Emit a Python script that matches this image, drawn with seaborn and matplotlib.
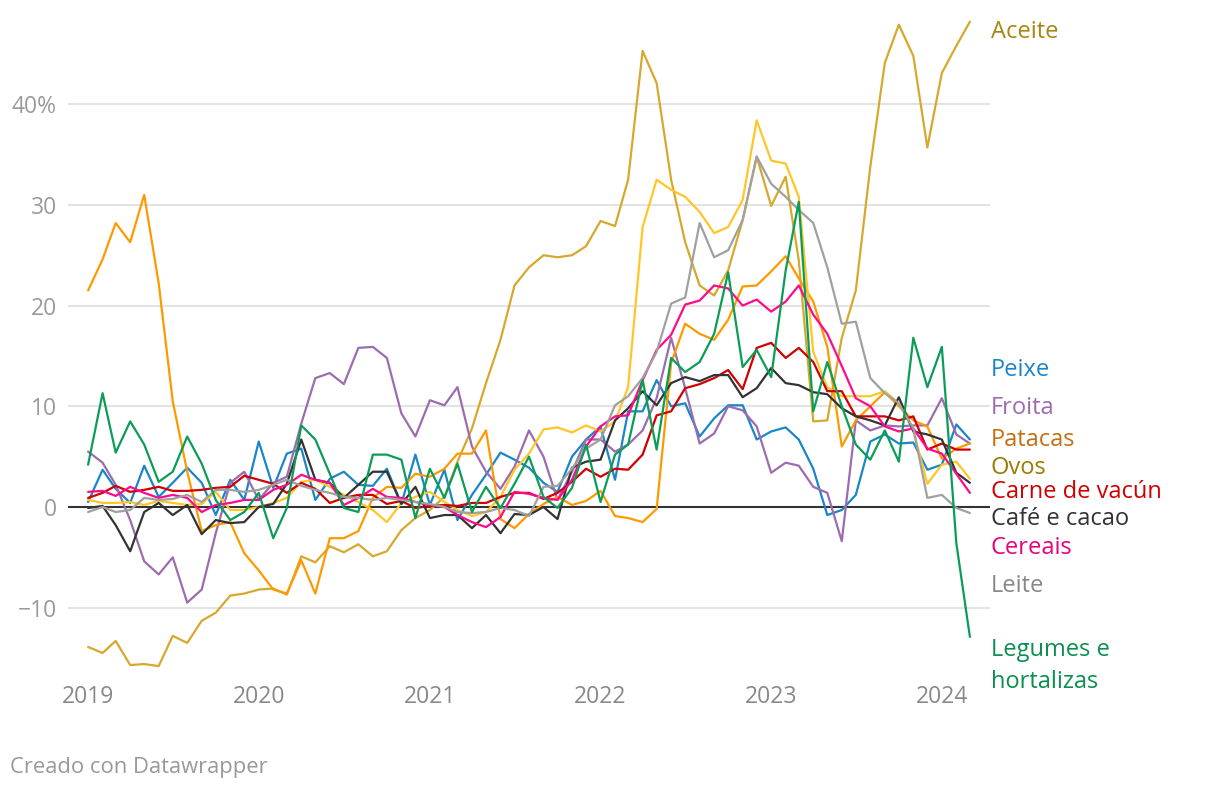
import numpy as np
import pandas as pd
import seaborn as sns
import matplotlib.pyplot as plt

# =========================
# DATA (monthly % change, Jan 2019 - Mar 2024)
# =========================
months = pd.date_range("2019-01-01", periods=63, freq="MS")

aceite = [-13.9, -14.5, -13.3, -15.7, -15.6, -15.8, -12.8, -13.5, -11.3, -10.5, -8.8, -8.6,
          -8.2, -8.1, -8.7, -4.9, -5.5, -3.9, -4.5, -3.7, -4.9, -4.4, -2.3, -1.1,
          -0.3, 1.0, 4.5, 7.8, 12.3, 16.6, 22.0, 23.8, 25.0, 24.8, 25.0, 25.9,
          28.4, 27.9, 32.5, 45.3, 42.1, 32.5, 26.3, 22.0, 21.0, 23.5, 28.5, 34.8,
          29.9, 32.8, 24.5, 8.5, 8.6, 16.8, 21.5, 33.8, 44.1, 47.9, 44.8, 35.7,
          43.1, 45.8, 48.2]
peixe = [0.5, 3.7, 1.8, 0.4, 4.1, 1.0, 2.4, 3.9, 2.4, -0.8, 2.7, 0.7,
         6.5, 1.9, 5.3, 5.8, 0.7, 2.8, 3.5, 2.2, 2.1, 3.8, 0.3, 5.2,
         0.2, 3.7, -1.3, 1.2, 3.2, 5.4, 4.7, 3.9, 2.4, 1.5, 5.0, 6.7,
         8.0, 2.7, 9.5, 9.5, 12.6, 10.0, 10.3, 7.0, 8.8, 10.1, 10.1, 6.7,
         7.5, 7.9, 6.7, 3.8, -0.8, -0.3, 1.2, 6.5, 7.2, 6.3, 6.4, 3.7,
         4.2, 8.2, 6.7]
froita = [5.5, 4.4, 2.2, -1.3, -5.4, -6.7, -5.0, -9.5, -8.2, -2.6, 2.4, 3.5,
          0.7, 2.4, 3.0, 8.3, 12.8, 13.3, 12.2, 15.8, 15.9, 14.8, 9.3, 7.0,
          10.6, 10.1, 11.9, 6.0, 3.5, 1.8, 4.0, 7.6, 5.0, 0.7, 3.5, 6.7,
          6.7, 5.5, 6.2, 7.6, 10.8, 16.8, 11.8, 6.3, 7.3, 10.0, 9.6, 8.0,
          3.4, 4.4, 4.1, 2.0, 1.4, -3.4, 8.6, 7.6, 8.1, 8.0, 8.1, 8.1,
          10.8, 7.2, 6.3]
patacas = [21.5, 24.6, 28.2, 26.3, 31.0, 22.2, 10.5, 3.5, -2.4, -1.8, -1.5, -4.6,
           -6.3, -8.2, -8.6, -5.3, -8.6, -3.1, -3.1, -2.4, 0.9, 2.0, 1.9, 3.3,
           3.0, 3.8, 5.3, 5.3, 7.6, -1.2, -2.1, -0.7, 0.3, 1.0, 0.2, 0.6,
           1.6, -0.9, -1.1, -1.5, -0.2, 14.3, 18.2, 17.2, 16.6, 18.6, 21.9, 22.0,
           23.4, 24.9, 22.7, 20.4, 15.9, 6.0, 8.6, 10.0, 11.4, 10.0, 8.6, 8.0,
           4.8, 5.8, 6.3]
ovos = [0.7, 0.4, 0.4, 0.5, 0.2, 0.6, 0.4, 0.2, 0.3, 1.5, -0.3, -0.3,
        0.0, 0.4, 0.9, 2.5, 2.7, 2.0, 1.2, 0.5, -0.3, -1.5, 0.4, 1.0,
        1.5, 0.5, -0.3, -0.9, -0.5, 1.0, 3.7, 5.3, 7.7, 7.9, 7.4, 8.1,
        7.5, 8.5, 11.9, 27.8, 32.5, 31.5, 30.8, 29.3, 27.2, 27.8, 30.5, 38.4,
        34.4, 34.1, 30.8, 15.4, 11.9, 11.0, 11.0, 11.0, 11.5, 10.3, 7.6, 2.3,
        4.2, 4.5, 2.8]
carne = [0.9, 1.4, 2.1, 1.5, 1.7, 2.0, 1.6, 1.6, 1.7, 1.9, 2.0, 3.1,
         2.7, 2.3, 1.4, 2.4, 1.8, 0.4, 0.9, 1.2, 1.2, 0.3, 0.6, -0.1,
         0.1, 0.2, 0.1, 0.4, 0.4, 1.0, 1.4, 1.4, 0.8, 1.4, 2.5, 3.8,
         3.0, 3.8, 3.7, 5.2, 9.1, 9.5, 11.8, 12.2, 12.8, 13.6, 11.7, 15.8,
         16.3, 14.8, 15.8, 14.4, 11.5, 11.5, 9.0, 9.0, 9.0, 8.6, 9.0, 5.7,
         6.3, 5.7, 5.7]
cafe = [-0.1, 0.1, -1.8, -4.4, -0.5, 0.4, -0.8, 0.2, -2.7, -1.3, -1.6, -1.5,
        0.0, 0.3, 2.3, 6.7, 2.7, 2.4, 0.9, 2.2, 3.5, 3.5, 0.3, 2.0,
        -1.1, -0.8, -0.8, -2.1, -0.8, -2.6, -0.7, -0.8, 0.0, -1.2, 3.9, 4.5,
        4.7, 8.6, 9.8, 11.5, 10.1, 12.3, 12.9, 12.5, 13.1, 13.1, 10.9, 11.8,
        13.8, 12.3, 12.1, 11.4, 11.2, 9.8, 9.0, 8.6, 8.1, 10.9, 7.5, 7.2,
        6.7, 3.4, 2.4]
cereais = [1.5, 1.6, 1.1, 2.0, 1.4, 0.9, 1.2, 0.9, -0.5, 0.2, 0.4, 0.7,
           0.7, 1.7, 2.2, 3.2, 2.7, 2.4, 0.2, 0.9, 1.8, 1.0, 0.9, 0.5,
           0.2, 0.0, -0.8, -1.5, -2.0, -1.0, 1.5, 1.3, 0.9, 0.7, 2.7, 6.0,
           8.0, 9.0, 9.1, 12.6, 15.6, 17.1, 20.1, 20.5, 22.0, 21.7, 20.0, 20.6,
           19.4, 20.4, 22.0, 19.1, 17.2, 14.0, 10.8, 10.0, 8.0, 7.5, 7.8, 5.8,
           5.3, 3.3, 1.4]
leite = [-0.5, 0.0, -0.5, -0.3, 0.9, 0.7, 0.8, 1.2, 0.5, 1.7, 1.7, 1.5,
         1.7, 2.2, 2.7, 2.1, 1.7, 1.4, 1.0, 0.9, 0.7, 0.9, 0.7, 0.5,
         0.3, 0.0, -0.5, -0.6, -0.5, -0.1, -0.3, -0.9, 2.0, 2.1, 3.8, 5.8,
         6.7, 10.1, 11.0, 12.8, 15.4, 20.2, 20.8, 28.2, 24.8, 25.5, 28.5, 34.8,
         32.1, 30.8, 29.5, 28.2, 23.8, 18.2, 18.4, 12.8, 11.3, 10.3, 7.8, 0.9,
         1.2, -0.1, -0.6]
legumes = [4.2, 11.3, 5.4, 8.5, 6.2, 2.5, 3.5, 7.0, 4.3, 0.7, -1.3, -0.5,
           1.4, -3.1, -0.1, 8.1, 6.7, 3.3, -0.1, -0.5, 5.2, 5.2, 4.7, -1.1,
           3.8, 0.9, 4.3, -0.5, 2.0, -0.1, 2.3, 5.0, 1.0, -0.1, 1.9, 6.2,
           0.5, 5.2, 6.2, 12.6, 5.7, 14.8, 13.4, 14.4, 17.2, 23.3, 13.9, 15.6,
           12.9, 23.5, 30.3, 9.5, 14.4, 10.0, 6.2, 4.7, 7.6, 4.5, 16.8, 11.9,
           15.9, -3.6, -12.9]

series = {
    "Aceite": aceite,
    "Peixe": peixe,
    "Froita": froita,
    "Patacas": patacas,
    "Ovos": ovos,
    "Carne de vacún": carne,
    "Café e cacao": cafe,
    "Cereais": cereais,
    "Leite": leite,
    "Legumes e hortalizas": legumes,
}

line_colors = {
    "Aceite": "#d6a82c",
    "Peixe": "#1a86c7",
    "Froita": "#9c6cb0",
    "Patacas": "#ff9900",
    "Ovos": "#ffc627",
    "Carne de vacún": "#d10000",
    "Café e cacao": "#333333",
    "Cereais": "#ff0a8c",
    "Leite": "#a0a0a0",
    "Legumes e hortalizas": "#0b9d58",
}
label_colors = {
    "Aceite": "#a88512",
    "Peixe": "#1a86c7",
    "Froita": "#9c6cb0",
    "Patacas": "#c46f12",
    "Ovos": "#9a7b05",
    "Carne de vacún": "#d10000",
    "Café e cacao": "#333333",
    "Cereais": "#e8007f",
    "Leite": "#888888",
    "Legumes e hortalizas": "#0b8f50",
}
# y position (data units) of the right-hand labels
label_y = {
    "Aceite": 47.2,
    "Peixe": 13.6,
    "Froita": 9.8,
    "Patacas": 6.7,
    "Ovos": 3.9,
    "Carne de vacún": 1.5,
    "Café e cacao": -1.2,
    "Cereais": -4.1,
    "Leite": -7.8,
    "Legumes e hortalizas": -15.8,
}

rows = []
for name, vals in series.items():
    assert len(vals) == len(months), name
    for d, v in zip(months, vals):
        rows.append({"fecha": d, "valor": v, "serie": name})
df = pd.DataFrame(rows)

# =========================
# PLOT
# =========================
sns.set_theme(style="white")
plt.rcParams["font.family"] = ["Open Sans", "DejaVu Sans"]

fig = plt.figure(figsize=(12.2, 7.94), dpi=100)
ax = fig.add_axes([68 / 1220, 124 / 794, 922 / 1220, 655 / 794])

for v in [-10, 10, 20, 30, 40]:
    ax.axhline(v, color="#e3e3e3", lw=1.5, zorder=0)
ax.axhline(0, color="#333333", lw=1.5, zorder=1)

sns.lineplot(data=df, x="fecha", y="valor", hue="serie", palette=line_colors,
             hue_order=list(series.keys()), linewidth=1.6, legend=False, ax=ax)

start = months[0]
ax.set_xlim(start - pd.Timedelta(days=43), months[-1] + pd.Timedelta(days=43))
ax.set_ylim(-16.19, 48.86)

years = pd.date_range("2019-01-01", "2024-01-01", freq="YS")
ax.set_xticks(years)
ax.set_xticklabels([str(y.year) for y in years])
ax.set_yticks([-10, 0, 10, 20, 30, 40])
ax.set_yticklabels(["\u221210", "0", "10", "20", "30", "40%"])
ax.tick_params(axis="both", length=0, labelsize=16.5)
ax.tick_params(axis="x", pad=11, labelcolor="#888888")
ax.tick_params(axis="y", pad=8, labelcolor="#9a9a9a")
ax.set_xlabel("")
ax.set_ylabel("")
sns.despine(ax=ax, left=True, bottom=True)

tr = ax.get_yaxis_transform()
for name in series:
    txt = name
    if name == "Legumes e hortalizas":
        txt = "Legumes e\nhortalizas"
    ax.text(1.001, label_y[name], txt, transform=tr, color=label_colors[name],
            fontsize=17, ha="left", va="center", linespacing=1.45, clip_on=False)

fig.text(10 / 1220, 1 - 768 / 794, "Creado con Datawrapper", color="#999999",
         fontsize=15.8, ha="left", va="center")

fig.savefig("out.png", dpi=100)
